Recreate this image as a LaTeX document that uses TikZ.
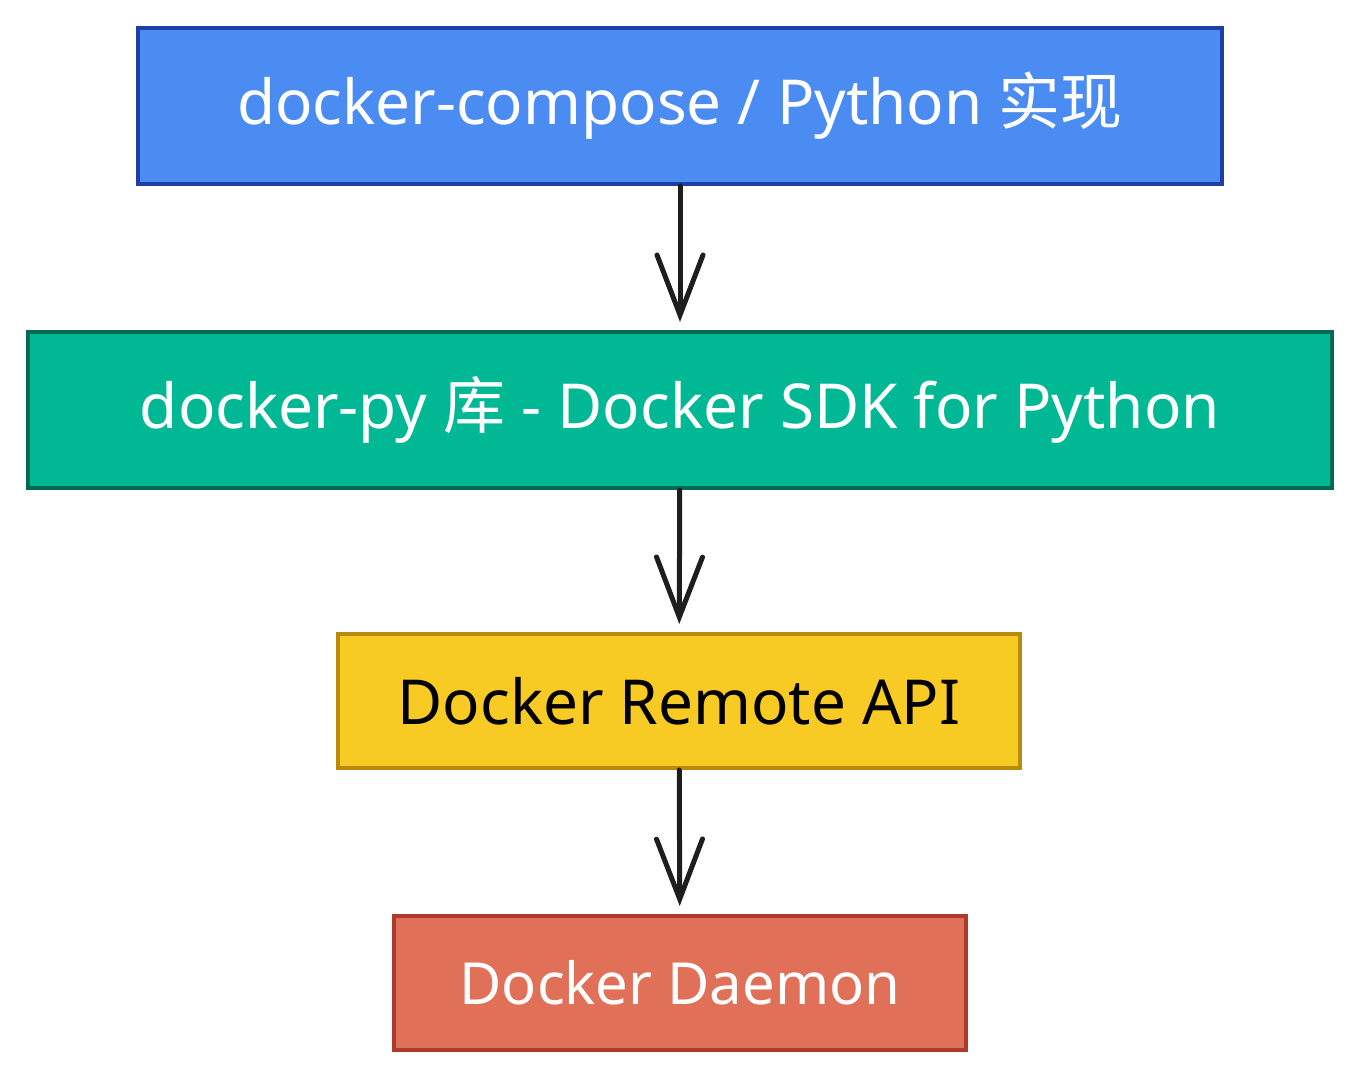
\documentclass[tikz,border=0pt]{standalone}
\usepackage{fontspec}
\setmainfont{Noto Sans}
\newfontfamily\cjk{Noto Sans CJK SC}
\usetikzlibrary{arrows.meta}

\definecolor{blueFill}{HTML}{4A8CF2}
\definecolor{blueLine}{HTML}{1E3EA8}
\definecolor{greenFill}{HTML}{00B894}
\definecolor{greenLine}{HTML}{006A55}
\definecolor{yellowFill}{HTML}{F8CA24}
\definecolor{yellowLine}{HTML}{B98A0C}
\definecolor{redFill}{HTML}{E07058}
\definecolor{redLine}{HTML}{B0392E}
\definecolor{ink}{HTML}{1E1E1E}

\begin{document}
\begin{tikzpicture}[x=0.5pt, y=-0.5pt,
  layer/.style={draw, line width=2pt, rectangle, inner sep=0pt,
    font=\fontsize{31}{37}\selectfont},
  flow/.style={draw=ink, line width=2.5pt, line cap=round,
    -{Straight Barb[length=30pt, width=23pt, line cap=round]},
    shorten >=4pt}
]
\useasboundingbox (0,0) rectangle (1360,1080);
\node[layer, fill=blueFill, draw=blueLine, text=white,
  minimum width=542pt, minimum height=78pt] (compose) at (680,106)
  {docker-compose / Python {\cjk 实现}};
\node[layer, fill=greenFill, draw=greenLine, text=white,
  minimum width=652pt, minimum height=78pt] (dockerpy) at (680,410)
  {docker-py {\cjk 库} - Docker SDK for Python};
\node[layer, fill=yellowFill, draw=yellowLine, text=black,
  minimum width=341pt, minimum height=67pt] (api) at (679,701)
  {Docker Remote API};
\node[layer, fill=redFill, draw=redLine, text=white,
  minimum width=286pt, minimum height=67pt,
  font=\fontsize{29}{35}\selectfont] (daemon) at (680,983)
  {Docker Daemon};
\draw[flow] (compose) -- (dockerpy);
\draw[flow] (dockerpy) -- (api);
\draw[flow] (api) -- (daemon);
\end{tikzpicture}
\end{document}
